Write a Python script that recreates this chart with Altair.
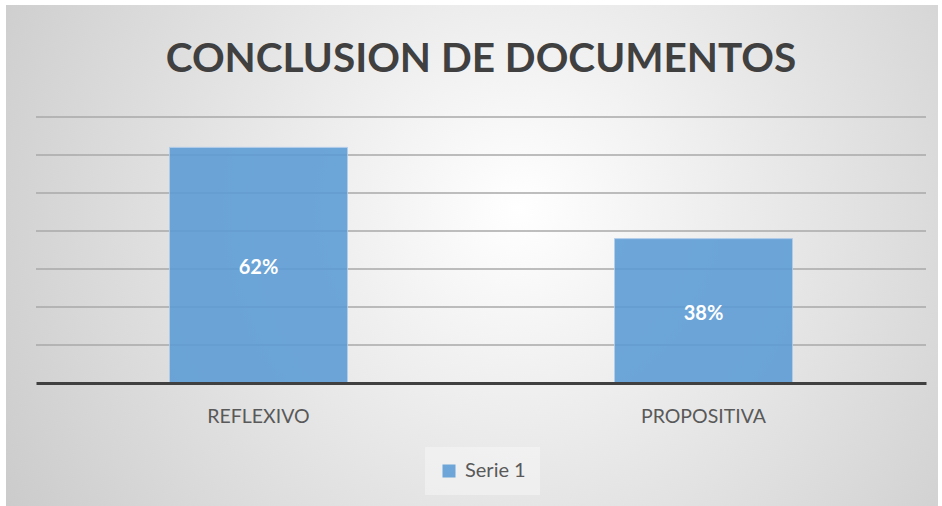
import altair as alt
import pandas as pd

categories = ["REFLEXIVO", "PROPOSITIVA"]
values = [0.62, 0.38]
series = ["Serie 1", "Serie 1"]
labels = ["62%", "38%"]
grid_ticks = [0.1, 0.2, 0.3, 0.4, 0.5, 0.6, 0.7]
title_text = "CONCLUSION DE DOCUMENTOS"

FONT = "Lato"

df = pd.DataFrame({"cat": categories, "val": values, "serie": series, "label": labels})
grid_df = pd.DataFrame({"tick": grid_ticks})

bg = alt.Chart(pd.DataFrame({"a": [0]})).mark_rect(
    fill={
        "gradient": "radial",
        "x1": 0.55, "y1": 0.45, "r1": 0,
        "x2": 0.55, "y2": 0.45, "r2": 0.75,
        "stops": [
            {"offset": 0, "color": "#ffffff"},
            {"offset": 1, "color": "#c2c2c2"},
        ],
    }
).encode(x=alt.value(-30), x2=alt.value(902), y=alt.value(-112), y2=alt.value(389))

title = alt.Chart(pd.DataFrame({"t": [title_text]})).mark_text(
    font=FONT, fontSize=40.5, fontWeight="bold", color="#404040",
    align="center", baseline="alphabetic"
).encode(x=alt.value(445), y=alt.value(-45), text="t:N")

yscale = alt.Scale(domain=[0, 0.7])

grid = alt.Chart(grid_df).mark_rule(color="#a8a8a8", strokeWidth=1.5).encode(
    y=alt.Y("tick:Q", scale=yscale, axis=None)
)

x = alt.X(
    "cat:N", sort=categories,
    scale=alt.Scale(paddingInner=0.6, paddingOuter=0.3),
    axis=alt.Axis(title=None, labelAngle=0, ticks=False, domainColor="#404040",
                  domainWidth=3, labelFont=FONT, labelFontSize=19.5,
                  labelColor="#595959", labelPadding=24, zindex=1),
)
y = alt.Y("val:Q", scale=yscale, axis=None)

bars = alt.Chart(df).mark_bar(opacity=0.88, stroke="#a9c9ea", strokeWidth=1).encode(
    x=x, y=y,
    color=alt.Color(
        "serie:N", scale=alt.Scale(range=["#5b9bd5"]),
        legend=alt.Legend(title=None, orient="none", legendX=389, legendY=330,
                          symbolType="square", symbolSize=169, symbolStrokeWidth=0,
                          labelFont=FONT, labelFontSize=20, labelColor="#595959",
                          labelOffset=6,
                          fillColor="rgba(255,255,255,0.35)", padding=14),
    ),
)

text = alt.Chart(df).transform_calculate(mid="datum.val / 2").mark_text(
    color="white", fontWeight="bold", fontSize=20, font=FONT, baseline="middle", dy=3
).encode(x=alt.X("cat:N", sort=categories), y=alt.Y("mid:Q", axis=None), text="label:N")

chart = alt.layer(bg, title, grid, bars, text).properties(
    width=890, height=266,
    padding={"left": 36, "top": 117, "right": 16, "bottom": 123},
    autosize="none",
).configure_view(stroke=None).configure(background="white")

chart.save("out.html", embed_options={"renderer": "svg", "actions": False})
